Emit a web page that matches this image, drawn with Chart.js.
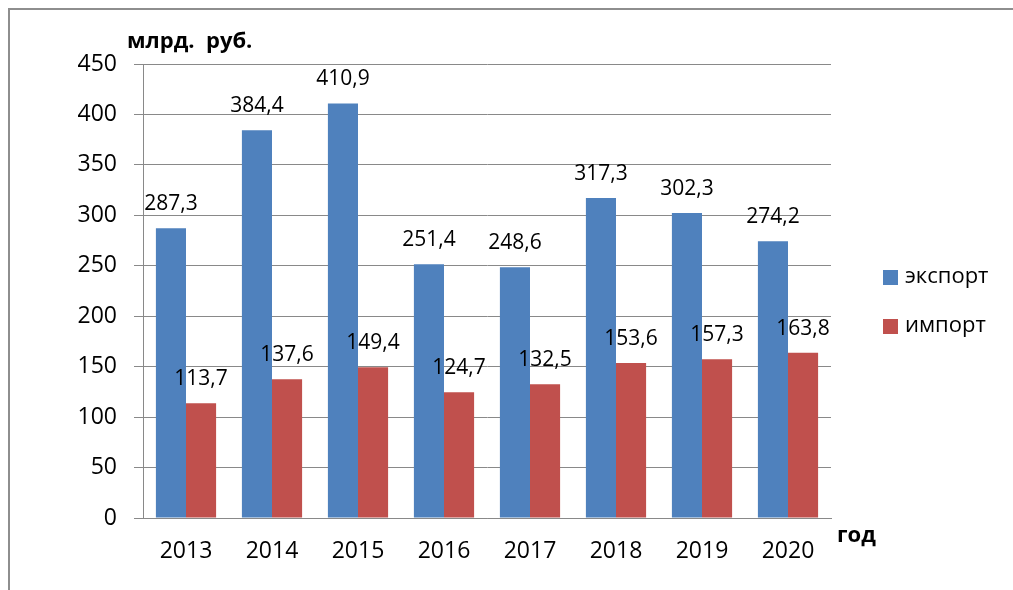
<!DOCTYPE html>
<html>
<head>
<meta charset="utf-8">
<script src="https://cdn.jsdelivr.net/npm/chart.js@4/dist/chart.umd.min.js"></script>
<style>
  html, body { margin: 0; padding: 0; background: #fff; }
  #wrap { width: 1013px; height: 590px; }
</style>
</head>
<body>
<div id="wrap"><canvas id="chart" width="1013" height="590"></canvas></div>
<script>
// Экспорт / импорт, млрд. руб.
const years = ["2013", "2014", "2015", "2016", "2017", "2018", "2019", "2020"];
const exportValues = [287.3, 384.4, 410.9, 251.4, 248.6, 317.3, 302.3, 274.2];
const importValues = [113.7, 137.6, 149.4, 124.7, 132.5, 153.6, 157.3, 163.8];
const seriesNames = ["экспорт", "импорт"];
const seriesColors = ["#4F81BD", "#C0504D"];
const yUnit = "млрд.  руб.";
const xUnit = "год";

const FONT = "'Open Sans', 'Liberation Sans', sans-serif";
const GRID = "#898989";

// frame around the whole picture
const framePlugin = {
  id: "frame",
  beforeDraw(chart) {
    const c = chart.ctx;
    c.save();
    c.strokeStyle = "#8e8e8e";
    c.lineWidth = 2;
    c.beginPath();
    c.moveTo(9, 590);
    c.lineTo(9, 9);
    c.lineTo(1013, 9);
    c.stroke();
    c.restore();
  },
};

// value labels above bars, comma as decimal separator
const valueLabels = {
  id: "valueLabels",
  afterDatasetsDraw(chart) {
    const c = chart.ctx;
    c.save();
    c.font = "21px " + FONT;
    c.fillStyle = "#000";
    c.textAlign = "center";
    c.textBaseline = "middle";
    chart.data.datasets.forEach((ds, i) => {
      chart.getDatasetMeta(i).data.forEach((bar, j) => {
        const txt = ds.data[j].toFixed(1).replace(".", ",");
        c.fillText(txt, bar.x, bar.y - 24);
      });
    });
    c.restore();
  },
};

// axis captions and legend
const extras = {
  id: "extras",
  afterDraw(chart) {
    const c = chart.ctx;
    c.save();
    c.fillStyle = "#000";
    c.textBaseline = "middle";
    c.textAlign = "left";
    c.font = "bold 22px " + FONT;
    c.fillText("млрд.", 127, 42);
    c.fillText("руб.", 206, 42);
    c.fillText(xUnit, 837, 536);

    c.font = "22px " + FONT;
    chart.data.datasets.forEach((ds, i) => {
      const y = 277 + i * 49;
      c.fillStyle = ds.backgroundColor;
      c.fillRect(883, y - 7, 15, 15);
      c.fillStyle = "#000";
      c.fillText(ds.label, 905, y);
    });
    c.restore();
  },
};

new Chart(document.getElementById("chart"), {
  type: "bar",
  data: {
    labels: years,
    datasets: [
      {
        label: seriesNames[0],
        data: exportValues,
        backgroundColor: seriesColors[0],
        borderWidth: 0,
        barPercentage: 1.0,
        categoryPercentage: 0.7,
      },
      {
        label: seriesNames[1],
        data: importValues,
        backgroundColor: seriesColors[1],
        borderWidth: 0,
        barPercentage: 1.0,
        categoryPercentage: 0.7,
      },
    ],
  },
  options: {
    responsive: false,
    animation: false,
    layout: {
      padding: { left: 0, top: 64, right: 182, bottom: 0 },
    },
    plugins: {
      legend: { display: false },
      title: { display: false },
      tooltip: { enabled: false },
    },
    scales: {
      x: {
        grid: { display: false, drawTicks: false },
        border: { display: true, color: GRID, width: 1 },
        ticks: {
          color: "#000",
          font: { family: FONT, size: 23 },
          padding: 20,
        },
        afterFit(scale) {
          scale.height = 72;
        },
      },
      y: {
        min: 0,
        max: 450,
        grid: { color: GRID, lineWidth: 1, tickLength: 9, drawTicks: true },
        border: { display: true, color: GRID, width: 1 },
        ticks: {
          stepSize: 50,
          color: "#000",
          font: { family: FONT, size: 23 },
          padding: 17,
        },
        afterFit(scale) {
          scale.width = 143;
        },
      },
    },
  },
  plugins: [framePlugin, valueLabels, extras],
});
</script>
</body>
</html>
